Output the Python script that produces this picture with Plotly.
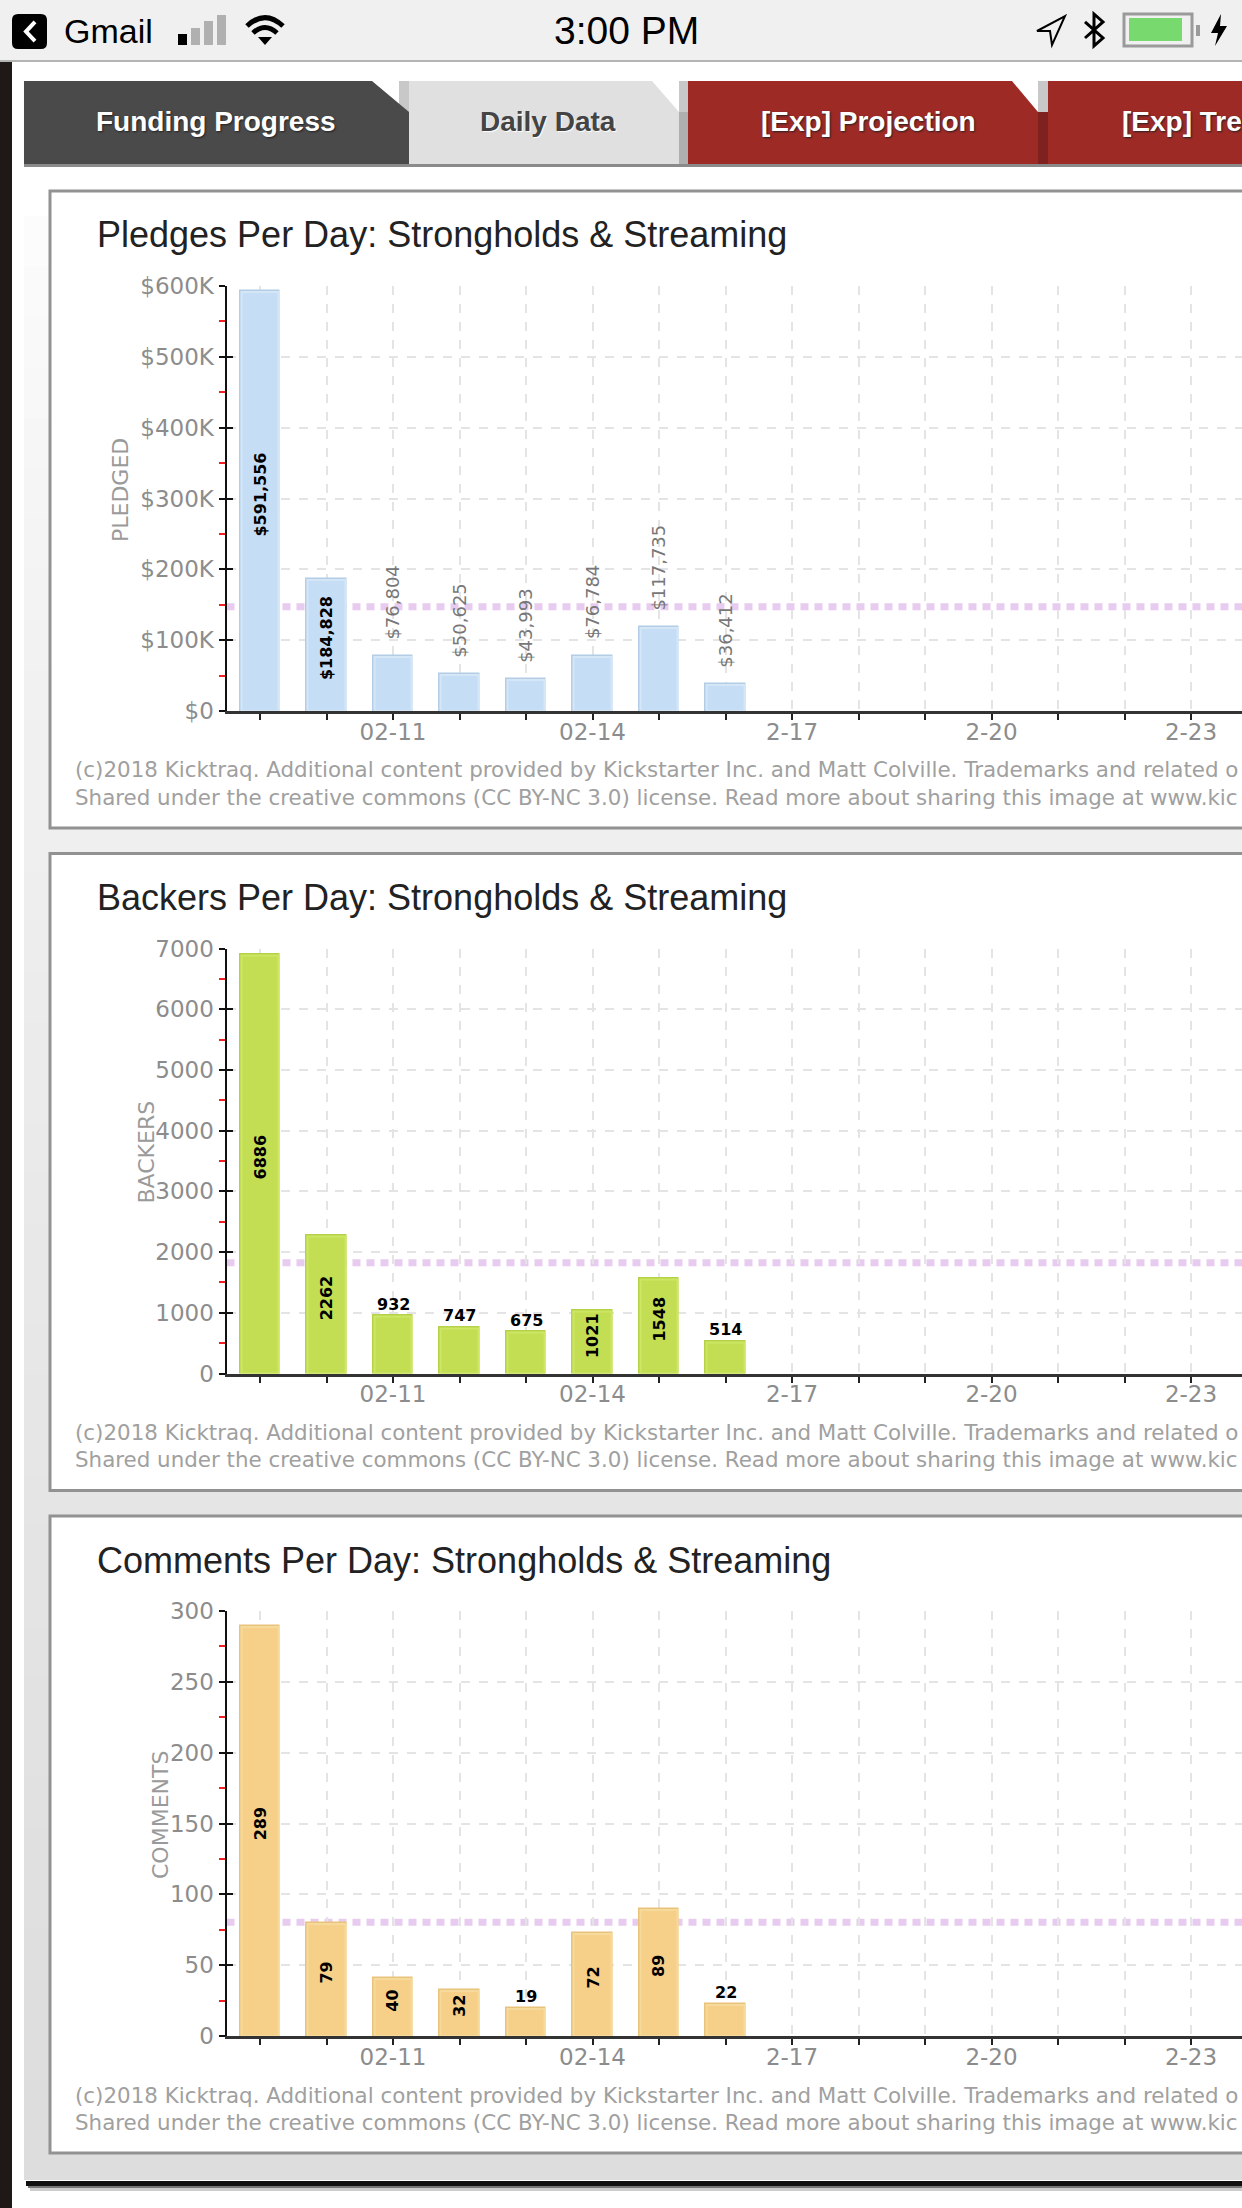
import plotly.graph_objects as go

W = 1242
H = 2208

# data
days = ["02-09", "02-10", "02-11", "02-12", "02-13", "02-14", "02-15", "02-16",
        "02-17", "02-18", "02-19", "02-20", "02-21", "02-22", "02-23", "02-24"]
tick_labels = ["", "", "02-11", "", "", "02-14", "", "", "2-17", "", "", "2-20", "", "", "2-23", ""]

pledges = [591556, 184828, 76804, 50625, 43993, 76784, 117735, 36412]
backers = [6886, 2262, 932, 747, 675, 1021, 1548, 514]
comments = [289, 79, 40, 32, 19, 72, 89, 22]

pledge_ticks = [0, 100000, 200000, 300000, 400000, 500000, 600000]
pledge_tick_labels = ["$0", "$100K", "$200K", "$300K", "$400K", "$500K", "$600K"]
backer_ticks = [0, 1000, 2000, 3000, 4000, 5000, 6000, 7000]
comment_ticks = [0, 50, 100, 150, 200, 250, 300]

footer_1 = "(c)2018 Kicktraq. Additional content provided by Kickstarter Inc. and Matt Colville. Trademarks and related o"
footer_2 = "Shared under the creative commons (CC BY-NC 3.0) license. Read more about sharing this image at www.kic"

charts = [
    dict(title="Pledges Per Day: Strongholds & Streaming", axis="PLEDGED", axis_x=120, values=pledges,
         labels=[f"${v:,}" for v in pledges], ticks=pledge_ticks, ticktext=pledge_tick_labels,
         minor=50000, inside_min=150000, fill="#c6ddf6", band="#d5e7f7", edge="#b4cde6",
         rotate_outside=True, offset=0),
    dict(title="Backers Per Day: Strongholds & Streaming", axis="BACKERS", axis_x=146, values=backers,
         labels=[str(v) for v in backers], ticks=backer_ticks, ticktext=[str(v) for v in backer_ticks],
         minor=500, inside_min=1000, fill="#c3de53", band="#cde765", edge="#b5d148",
         rotate_outside=False, offset=662.5),
    dict(title="Comments Per Day: Strongholds & Streaming", axis="COMMENTS", axis_x=160, values=comments,
         labels=[str(v) for v in comments], ticks=comment_ticks, ticktext=[str(v) for v in comment_ticks],
         minor=25, inside_min=30, fill="#f6cf89", band="#f6da9c", edge="#e9c27c",
         rotate_outside=False, offset=1325),
]

GREY = "#8c8c8c"
LABEL_FONT = "DejaVu Sans"
UI_FONT = "Liberation Sans"


def P(x, y):
    return f"{x / W:.5f},{1 - y / H:.5f}"


def poly(points, close=True):
    path = "M" + " L".join(P(x, y) for x, y in points)
    return path + (" Z" if close else "")


def rect(x0, y0, x1, y1, fill, line=None, line_width=0):
    return dict(type="rect", xref="paper", yref="paper", layer="below",
                x0=x0 / W, x1=x1 / W, y0=1 - y0 / H, y1=1 - y1 / H, fillcolor=fill,
                line=dict(color=line or fill, width=line_width))


def path(d, fill="rgba(0,0,0,0)", line=None, line_width=0):
    return dict(type="path", xref="paper", yref="paper", layer="below", path=d, fillcolor=fill,
                line=dict(color=line or fill, width=line_width))


def page_text(x, y, text, size, color, font=UI_FONT, anchor="left", shadow=None, bold=False):
    f = dict(family=font, size=size, color=color, weight="bold" if bold else "normal")
    if shadow:
        f["shadow"] = shadow
    return dict(xref="paper", yref="paper", x=x / W, y=1 - y / H, text=text, showarrow=False,
                xanchor=anchor, yanchor="middle", font=f, align="left")


shapes = []
annotations = []

# page background, container gradient
shapes.append(rect(12, 62, W, H, "#ffffff"))
steps = 40
for i in range(steps):
    y0 = 166 + i * (2180 - 166) / steps
    y1 = y0 + (2180 - 166) / steps + 1
    level = int(255 - 34 * (i / (steps - 1)) ** 0.7)
    shapes.append(rect(24, y0, W, min(y1, 2180), f"rgb({level},{level},{level})"))
shapes.append(rect(26, 2181, W, 2186, "#111111"))
shapes.append(rect(28, 2186, W, 2188, "#777777"))
shapes.append(rect(30, 2188, W, 2191, "#cccccc"))
shapes.append(rect(0, 60, 12, H, "#1e1916"))

# status bar
shapes.append(rect(0, 0, W, 60, "#f0f0f0"))
shapes.append(rect(0, 60, W, 62, "#b4b4b4"))
shapes.append(path("M" + P(18, 14) + " L" + P(41, 14) + " Q" + P(47, 14) + " " + P(47, 20) + " L" + P(47, 43)
                   + " Q" + P(47, 49) + " " + P(41, 49) + " L" + P(18, 49) + " Q" + P(12, 49) + " " + P(12, 43)
                   + " L" + P(12, 20) + " Q" + P(12, 14) + " " + P(18, 14) + " Z", fill="#000000"))
shapes.append(path(poly([(35, 22), (26, 31.5), (35, 41)], close=False), line="#ffffff", line_width=4))
annotations.append(page_text(62, 31, "Gmail", 34, "#000000"))
annotations.append(page_text(626, 31, "3:00 PM", 39, "#000000", anchor="center"))
for x0, top, color in [(178, 34, "#000000"), (191, 28, "#b0b0b0"), (204, 21, "#b0b0b0"), (217, 15, "#b0b0b0")]:
    shapes.append(rect(x0, top, x0 + 9, 45, color))
shapes.append(path("M" + P(247, 26) + " Q" + P(265, 9) + " " + P(283, 26), line="#000000", line_width=5))
shapes.append(path("M" + P(253, 33) + " Q" + P(265, 22) + " " + P(277, 33), line="#000000", line_width=5))
shapes.append(path(poly([(258, 37), (272, 37), (265, 45)]), fill="#000000"))
shapes.append(path(poly([(1065, 16), (1037, 31), (1050, 31), (1052, 45)]), line="#000000", line_width=2))
shapes.append(path(poly([(1085, 22), (1103, 38), (1094, 46), (1094, 14), (1103, 22), (1085, 38)], close=False),
                   line="#000000", line_width=3))
shapes.append(rect(1124, 14, 1192, 46, "#f0f0f0", line="#9a9a9a", line_width=3))
shapes.append(rect(1129, 18, 1182, 41, "#78d96e"))
shapes.append(rect(1196, 25, 1200, 36, "#9a9a9a"))
shapes.append(path(poly([(1221, 14), (1211, 33), (1218, 33), (1215, 46), (1227, 26), (1220, 26)]), fill="#000000"))

# tabs
shapes.append(rect(399, 81, 409, 112, "#c8c8c8"))
shapes.append(path(poly([(24, 81), (372, 81), (409, 112), (409, 164), (24, 164)]), fill="#4a4a4a"))
shapes.append(rect(679, 81, 688, 112, "#c8c8c8"))
shapes.append(rect(679, 112, 688, 164, "#afafaf"))
shapes.append(path(poly([(409, 81), (652, 81), (679, 112), (679, 164), (409, 164)]), fill="#e0e0e0"))
shapes.append(rect(1038, 81, 1048, 112, "#c8c8c8"))
shapes.append(rect(1038, 112, 1048, 164, "#7f211e"))
shapes.append(path(poly([(688, 81), (1012, 81), (1038, 112), (1038, 164), (688, 164)]), fill="#9e2a26"))
shapes.append(rect(1048, 81, W, 164, "#9e2a26"))
shapes.append(rect(24, 164, W, 167, "#8a8a8a"))
dark = "1px 1px 2px #222222"
annotations.append(page_text(216, 122, "Funding Progress", 28, "#ffffff", anchor="center", shadow=dark, bold=True))
annotations.append(page_text(548, 122, "Daily Data", 28, "#444444", anchor="center", shadow="1px 1px 1px #ffffff", bold=True))
annotations.append(page_text(868, 122, "[Exp] Projection", 28, "#ffffff", anchor="center", shadow=dark, bold=True))
annotations.append(page_text(1120, 122, "[Exp] Tre", 28, "#ffffff", shadow=dark, bold=True))

fig = go.Figure()
layout_axes = {}

for n, c in enumerate(charts, start=1):
    off = c["offset"]
    xname = "x" if n == 1 else f"x{n}"
    yname = "y" if n == 1 else f"y{n}"
    xkey = "xaxis" if n == 1 else f"xaxis{n}"
    ykey = "yaxis" if n == 1 else f"yaxis{n}"
    top = c["ticks"][-1]
    x_vals = days[:len(c["values"])]

    # white panel behind each chart
    shapes.append(rect(50, 191 + off, W + 10, 828 + off, "#ffffff", line="#929292", line_width=3))

    # the bars have a dark rim and a light inner band, so draw them twice
    fig.add_trace(go.Bar(x=x_vals, y=c["values"], xaxis=xname, yaxis=yname, width=0.56,
                         marker=dict(color=c["edge"], line=dict(color=c["edge"], width=3.5)), showlegend=False))
    fig.add_trace(go.Bar(x=x_vals, y=c["values"], xaxis=xname, yaxis=yname, width=0.56,
                         marker=dict(color=c["fill"], line=dict(color=c["band"], width=2)), showlegend=False))

    # overlay axis only there for the inner half of the major ticks
    inner_y = f"y{n + 3}"
    fig.add_trace(go.Scatter(x=[], y=[], xaxis=xname, yaxis=inner_y, showlegend=False))
    layout_axes[f"yaxis{n + 3}"] = dict(domain=[1 - (711 + off) / H, 1 - (286 + off) / H], range=[0, top],
                                        anchor=xname, overlaying=yname, tickmode="array", tickvals=c["ticks"],
                                        ticks="inside", ticklen=6, tickwidth=2, tickcolor="#111111",
                                        showticklabels=False, showgrid=False, zeroline=False, showline=False)

    # daily average, dashed pink line behind the bars
    avg = sum(c["values"]) / len(c["values"])
    shapes.append(dict(type="line", xref=f"{xname} domain", yref=yname, x0=0, x1=1, y0=avg, y1=avg, layer="below",
                       line=dict(color="#e8ccef", width=7, dash="8px,6px")))

    layout_axes[xkey] = dict(type="category", categoryorder="array", categoryarray=days,
                             domain=[226.5 / W, 1], range=[-0.504, 14.767], anchor=yname,
                             tickmode="array", tickvals=days, ticktext=tick_labels,
                             ticks="outside", ticklen=6, tickwidth=2, tickcolor="#222222",
                             ticklabelstandoff=-8,
                             tickfont=dict(family=LABEL_FONT, size=23, color=GREY), tickangle=0,
                             showline=True, linecolor="#333333", linewidth=3,
                             showgrid=True, gridcolor="#e4e4e4", gridwidth=2, griddash="9px,9px", zeroline=False)
    layout_axes[ykey] = dict(domain=[1 - (711 + off) / H, 1 - (286 + off) / H], range=[0, top],
                             anchor=xname, tickmode="array", tickvals=c["ticks"], ticktext=c["ticktext"],
                             ticks="outside", ticklen=6, tickwidth=2, tickcolor="#111111",
                             tickfont=dict(family=LABEL_FONT, size=23, color=GREY),
                             minor=dict(dtick=c["minor"], tick0=0, ticks="outside", ticklen=6, tickwidth=2,
                                        tickcolor="#ee2222", showgrid=False),
                             showline=True, linecolor="#111111", linewidth=2,
                             showgrid=True, gridcolor="#e4e4e4", gridwidth=2, griddash="9px,9px", zeroline=False)

    annotations.append(page_text(95, 235 + off, c["title"], 36, "#222222"))
    annotations.append(page_text(73, 770 + off, footer_1, 21.4, "#a0a0a0", font=LABEL_FONT))
    annotations.append(page_text(73, 797 + off, footer_2, 21.4, "#a0a0a0", font=LABEL_FONT))
    annotations.append(dict(xref="paper", yref="paper", x=c["axis_x"] / W, y=1 - (490 + off) / H, text=c["axis"],
                            showarrow=False, textangle=-90, xanchor="center", yanchor="middle",
                            font=dict(family=LABEL_FONT, size=22, color="#9a9a9a")))

    # value labels
    for day, value, label in zip(days, c["values"], c["labels"]):
        if value > c["inside_min"]:
            annotations.append(dict(xref=xname, yref=yname, x=day, y=value / 2, text=label, showarrow=False,
                                    textangle=-90, xanchor="center", yanchor="middle", yshift=7,
                                    font=dict(family=LABEL_FONT, size=16, color="#000000", weight="bold")))
        elif c["rotate_outside"]:
            annotations.append(dict(xref=xname, yref=yname, x=day, y=value, text=label, showarrow=False,
                                    textangle=-90, xanchor="center", yanchor="bottom", yshift=15,
                                    font=dict(family=LABEL_FONT, size=18, color="#777777")))
        else:
            annotations.append(dict(xref=xname, yref=yname, x=day, y=value, text=label, showarrow=False,
                                    xanchor="center", yanchor="bottom", yshift=1,
                                    font=dict(family=LABEL_FONT, size=16, color="#000000", weight="bold")))

fig.update_layout(width=W, height=H, margin=dict(l=0, r=0, t=0, b=0, pad=0, autoexpand=False),
                  paper_bgcolor="#ffffff", plot_bgcolor="rgba(0,0,0,0)", showlegend=False,
                  shapes=shapes, annotations=annotations, barmode="overlay", bargap=0, **layout_axes)

fig.write_html("out.html", config={"displayModeBar": False},
               post_script="document.body.style.margin='0';document.body.style.overflow='hidden';")
